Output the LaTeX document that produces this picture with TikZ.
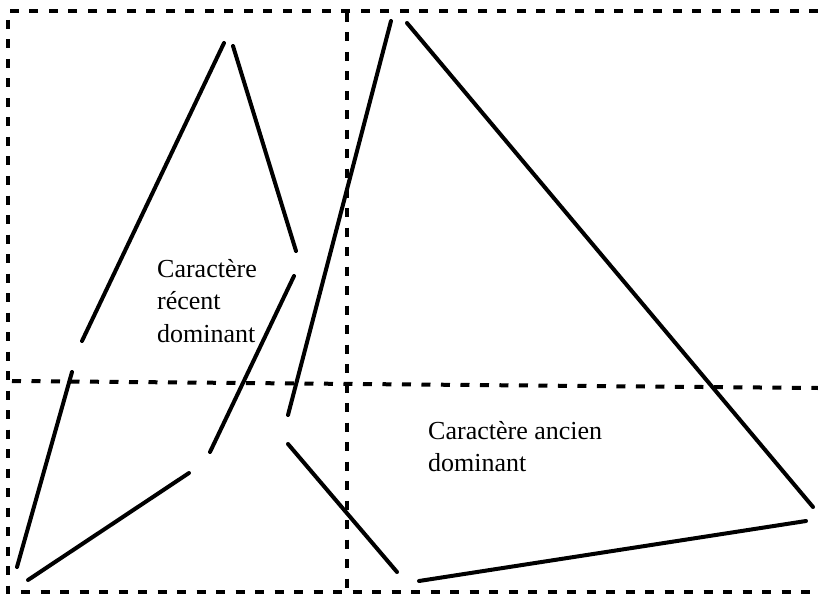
\documentclass[tikz,border=0pt]{standalone}
\usepackage{fontspec}
\setmainfont{Liberation Serif}
\begin{document}
\begin{tikzpicture}[x=1pt,y=-1pt,
  frame/.style={line width=4pt,dash pattern=on 9pt off 10.5pt},
  edge/.style={line width=4pt,line cap=round},
  label/.style={inner sep=0pt,align=left,anchor=north west,font=\fontsize{26}{32.5}\selectfont}]
\useasboundingbox (0,0) rectangle (818,596);
% frame corners
\coordinate (tl) at (8,11);
\coordinate (tr) at (818,11);
\coordinate (bl) at (8,592);
\coordinate (br) at (818,592);
\coordinate (vt) at (347,13);
\coordinate (vb) at (347,592);
\coordinate (hl) at (12,381);
\coordinate (hr) at (818,388);
\draw[frame] (tr) -- (tl) -- (bl) -- (br);
\draw[frame] (vt) -- (vb);
\draw[frame] (hl) -- (hr);
% left triangle pieces
\coordinate (a1) at (224,43);  \coordinate (a2) at (82,341);
\coordinate (b1) at (233,46);  \coordinate (b2) at (296,251);
\coordinate (c1) at (294,276); \coordinate (c2) at (210,452);
\coordinate (d1) at (189,473); \coordinate (d2) at (28,580);
\coordinate (e1) at (72,372);  \coordinate (e2) at (17,567);
% right triangle pieces
\coordinate (f1) at (391,21);  \coordinate (f2) at (288,415);
\coordinate (g1) at (407,23);  \coordinate (g2) at (813,507);
\coordinate (h1) at (288,444); \coordinate (h2) at (397,572);
\coordinate (k1) at (419,581); \coordinate (k2) at (806,521);
\foreach \p/\q in {a1/a2,b1/b2,c1/c2,d1/d2,e1/e2,f1/f2,g1/g2,h1/h2,k1/k2}
  \draw[edge] (\p) -- (\q);
\node[label] (recent) at (157,259) {Caractère\\récent\\dominant};
\node[label] (ancien) at (428,421) {Caractère ancien\\dominant};
\end{tikzpicture}
\end{document}
